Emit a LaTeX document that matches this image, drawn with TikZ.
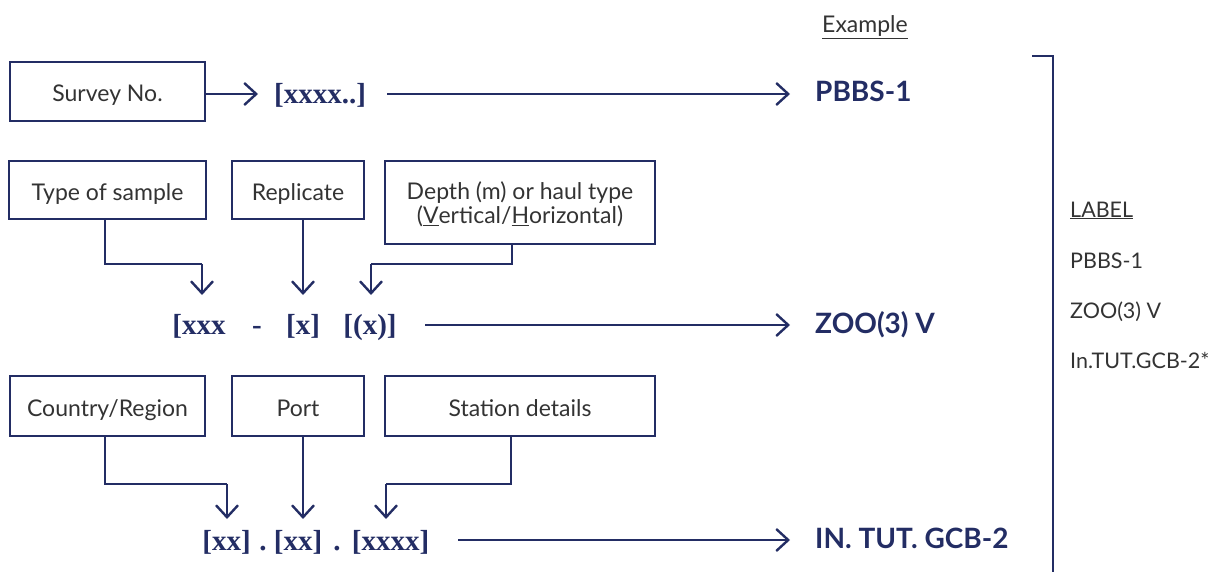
\documentclass[tikz,border=0pt]{standalone}
\usepackage{fontspec}
\setmainfont{Liberation Serif}
\newfontfamily\labfont{Lato}
\usetikzlibrary{arrows.meta}
\definecolor{navy}{HTML}{232D64}
\definecolor{txt}{HTML}{333333}
\begin{document}
\begin{tikzpicture}[x=1pt,y=-1pt,
  box/.style={draw=navy, line width=2.5pt, inner sep=0pt, text=txt,
    font=\labfont\fontsize{23}{25}\selectfont},
  boxone/.style={box, text height=21pt, text depth=0pt},
  code/.style={text=navy, inner sep=0pt, anchor=base,
    font=\bfseries\fontsize{29}{32}\selectfont},
  expl/.style={text=navy, inner sep=0pt, anchor=base west,
    font=\labfont\bfseries\fontsize{28}{32}\selectfont},
  side/.style={text=txt, inner sep=0pt, anchor=base west,
    font=\labfont\fontsize{21.5}{24}\selectfont},
  arr/.style={draw=navy, line width=2.4pt, -{Straight Barb[length=12pt,width=22pt]}},
  conn/.style={draw=navy, line width=2.4pt}
]
\useasboundingbox (0,0) rectangle (1212,572);

% header
\node[side, font=\labfont\fontsize{23}{26}\selectfont] (example) at (822,33) {\underline{Example}};

% row 1
\node[boxone, minimum width=195, minimum height=59] (survey) at (107.5,91.5) {Survey No.};
\node[code] (c1) at (320,104) {[xxxx..]};
\node[expl] (e1) at (815,102) {PBBS-1};
\coordinate (a1) at (258,94);
\coordinate (b1s) at (387,94);
\coordinate (b1e) at (790,94);
\draw[arr] (survey.east |- a1) -- (a1);
\draw[arr] (b1s) -- (b1e);

% row 2 boxes
\node[boxone, minimum width=197, minimum height=58] (type) at (107.5,190) {Type of sample};
\node[boxone, minimum width=132, minimum height=58] (rep) at (298,190) {Replicate};
\node[box, minimum width=270, minimum height=83] (depth) at (520,202.5)
  {\raisebox{-10pt}[0pt][0pt]{\begin{tabular}{@{}c@{}}Depth (m) or haul type\\[-1pt](\underline{V}ertical/\underline{H}orizontal)\end{tabular}}};

% row 2 codes
\node[code] (t1) at (199,334) {[xxx};
\node[code] (t2) at (257,334) {-};
\node[code] (t3) at (303,334) {[x]};
\node[code] (t4) at (370,334) {[(x)]};
\node[expl] (e2) at (815,333) {ZOO(3) V};

\coordinate (k1) at (105,264);
\coordinate (k2) at (202,295);
\coordinate (k3) at (303,295);
\coordinate (k4) at (512,264);
\coordinate (k5) at (371,295);
\draw[conn] (type.south -| k1) -- (k1) -- (k1 -| k2) coordinate (k1r);
\draw[arr] (k1r) -- (k2);
\draw[arr] (rep.south -| k3) -- (k3);
\draw[conn] (depth.south -| k4) -- (k4) -- (k4 -| k5) coordinate (k4l);
\draw[arr] (k4l) -- (k5);

\coordinate (b2s) at (425,325);
\coordinate (b2e) at (790,325);
\draw[arr] (b2s) -- (b2e);

% row 3 boxes
\node[boxone, minimum width=195, minimum height=60] (country) at (107.5,406) {Country/Region};
\node[boxone, minimum width=132, minimum height=60] (port) at (298,406) {Port};
\node[boxone, minimum width=270, minimum height=60] (station) at (520,406) {Station details};

% row 3 codes
\node[code] (u1) at (226.5,550) {[xx]};
\node[code] (u2) at (263,550) {.};
\node[code] (u3) at (298,550) {[xx]};
\node[code] (u4) at (337,550) {.};
\node[code] (u5) at (390.5,550) {[xxxx]};
\node[expl] (e3) at (815,548) {IN. TUT. GCB-2};

\coordinate (m1) at (105,484);
\coordinate (m2) at (227,519);
\coordinate (m3) at (303,519);
\coordinate (m4) at (511,484);
\coordinate (m5) at (386,519);
\draw[conn] (country.south -| m1) -- (m1) -- (m1 -| m2) coordinate (m1r);
\draw[arr] (m1r) -- (m2);
\draw[arr] (port.south -| m3) -- (m3);
\draw[conn] (station.south -| m4) -- (m4) -- (m4 -| m5) coordinate (m4l);
\draw[arr] (m4l) -- (m5);

\coordinate (b3s) at (458,540);
\coordinate (b3e) at (790,540);
\draw[arr] (b3s) -- (b3e);

% right bracket
\coordinate (r1) at (1032,56);
\coordinate (r2) at (1053,56);
\coordinate (r3) at (1053,574);
\draw[navy, line width=1.6pt] (r1) -- (r2) -- (r3);

\node[side] (lab) at (1070,217) {\underline{LABEL}};
\node[side] (l1) at (1070,268) {PBBS-1};
\node[side] (l2) at (1070,318) {ZOO(3) V};
\node[side] (l3) at (1070,368) {In.TUT.GCB-2*};
\end{tikzpicture}
\end{document}
